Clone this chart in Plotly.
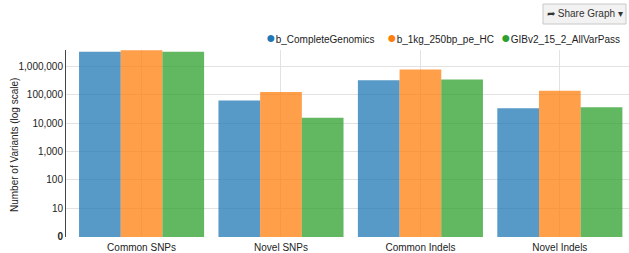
import plotly.graph_objects as go

categories = ["Common SNPs", "Novel SNPs", "Common Indels", "Novel Indels"]
series_names = ["b_CompleteGenomics", "b_1kg_250bp_pe_HC", "GIBv2_15_2_AllVarPass"]
b_complete_genomics = [3200000, 61500, 318000, 33000]
b_1kg_250bp_pe_hc = [3570000, 124000, 766000, 135000]
gibv2_allvarpass = [3200000, 15400, 335000, 35700]
series_values = [b_complete_genomics, b_1kg_250bp_pe_hc, gibv2_allvarpass]
colors = ["#1f77b4", "#ff7f0e", "#2ca02c"]
fills = ["rgba(31,119,180,0.75)", "rgba(255,127,14,0.75)", "rgba(44,160,44,0.75)"]
tick_values = [1, 10, 100, 1000, 10000, 100000, 1000000]
tick_labels = ["<b>0</b>", "10", "100", "1,000", "10,000", "100,000", "1,000,000"]

FONT = "Liberation Sans, Arial, Helvetica, sans-serif"

fig = go.Figure()
for name, vals, fc in zip(series_names, series_values, fills):
    fig.add_trace(go.Bar(
        x=categories, y=vals, name=name,
        marker=dict(color=fc, line=dict(width=0)),
        showlegend=False, hoverinfo="x+y+name",
    ))

fig.update_layout(
    width=629, height=253,
    margin=dict(l=66, r=0, t=50, b=16, autoexpand=False),
    paper_bgcolor="white", plot_bgcolor="white",
    barmode="group", bargap=0.103, bargroupgap=0,
    font=dict(family=FONT, size=10, color="#333"),
    showlegend=False,
    xaxis=dict(
        type="category", range=[-0.542, 3.496],
        showgrid=True, gridcolor="#e2e2e2", gridwidth=1,
        showline=False, ticks="outside", ticklen=1, tickcolor="rgba(0,0,0,0)",
        tickfont=dict(size=10, color="#222"),
        fixedrange=True, automargin=False,
    ),
    yaxis=dict(
        type="log", range=[-0.004, 6.565],
        tickvals=tick_values, ticktext=tick_labels,
        showgrid=True, gridcolor="#e2e2e2", gridwidth=1,
        showline=True, linecolor="#444", linewidth=1,
        ticks="", tickfont=dict(size=10, color="#222"),
        zeroline=False, fixedrange=True, automargin=False,
    ),
)

# y-axis title
fig.add_annotation(
    xref="paper", yref="paper",
    x=(14 - 66) / 563, y=(253 - 145 - 16) / 187,
    xanchor="center", yanchor="middle", showarrow=False, textangle=-90,
    text="Number of Variants (log scale)",
    font=dict(family=FONT, size=10, color="#222"),
)

# legend (top right, circle markers)
legend_x = [264, 385, 499]
for name, col, lx in zip(series_names, colors, legend_x):
    fig.add_annotation(
        xref="paper", yref="paper",
        x=(lx - 66) / 563, y=(253 - 38 - 16) / 187,
        xanchor="left", yanchor="middle", showarrow=False,
        text=f"<span style='color:{col};font-size:16px'>●</span>{name}",
        font=dict(family=FONT, size=10, color="#222"),
    )

# "Share Graph" button
fig.add_shape(
    type="path", xref="paper", yref="paper",
    path="M {x0} {y0} L {x1} {y0} L {x1} {y1} L {x0} {y1} Z".format(
        x0=(543 - 66) / 563, x1=(626 - 66) / 563,
        y0=(253 - 24 - 16) / 187, y1=(253 - 4 - 16) / 187),
    line=dict(color="#c8c8c8", width=1), fillcolor="#f2f2f2", layer="above",
)
fig.add_annotation(
    xref="paper", yref="paper",
    x=(584.5 - 66) / 563, y=(253 - 14 - 16) / 187,
    xanchor="center", yanchor="middle", showarrow=False,
    text="➦ Share Graph ▾",
    font=dict(family=FONT, size=10, color="#333"),
)

fig.write_html(
    "out.html",
    config={"displayModeBar": False},
    post_script="document.body.style.margin='0';document.body.style.overflow='hidden';",
)
